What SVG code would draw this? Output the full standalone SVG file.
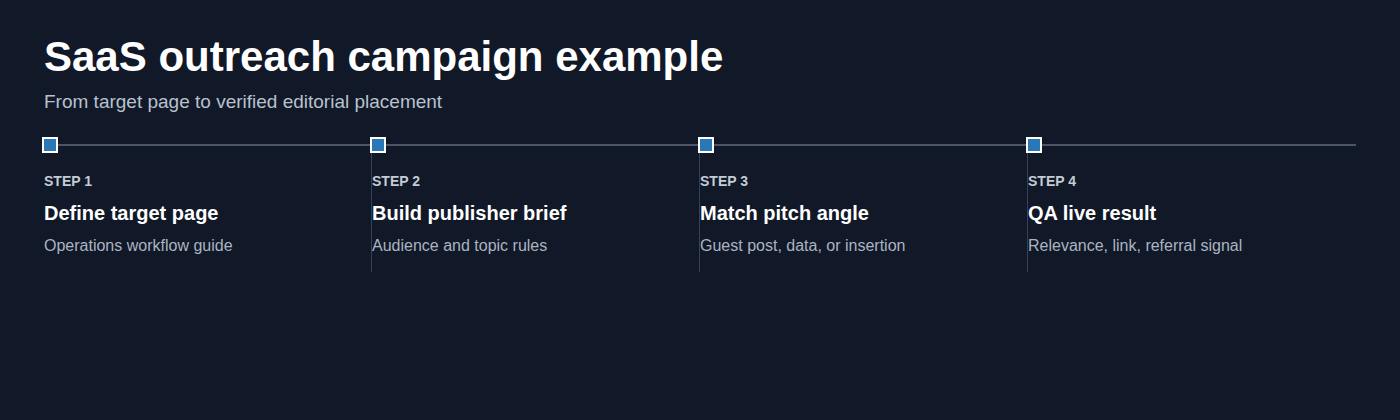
<svg xmlns="http://www.w3.org/2000/svg" width="1400" height="420" viewBox="0 0 1400 420">
<style>
text{font-family:"Liberation Sans",Arial,sans-serif}
.title{font-size:42px;font-weight:bold;fill:#ffffff}
.sub{font-size:19px;fill:#b8c2cf}
.step{font-size:14px;font-weight:bold;fill:#c3cbd6}
.name{font-size:20px;font-weight:bold;fill:#ffffff}
.desc{font-size:16px;fill:#aab4c2}
.mark{fill:#2a78b8;stroke:#ffffff;stroke-width:2}
.div{stroke:#374151;stroke-width:1}
.track{stroke:#4b5563;stroke-width:2}
</style>
<rect width="1400" height="420" fill="#111827"/>
<text class="title" x="44" y="71">SaaS outreach campaign example</text>
<text class="sub" x="44" y="108">From target page to verified editorial placement</text>
<g id="connectors">
<line class="track" x1="50" y1="145" x2="1356" y2="145"/>
<line class="div" x1="371.5" y1="152" x2="371.5" y2="272"/>
<line class="div" x1="699.5" y1="152" x2="699.5" y2="272"/>
<line class="div" x1="1027.5" y1="152" x2="1027.5" y2="272"/>
</g>
<g id="step1">
<rect class="mark" x="43" y="138" width="14" height="14"/>
<text class="step" x="44" y="186">STEP 1</text>
<text class="name" x="44" y="220">Define target page</text>
<text class="desc" x="44" y="251">Operations workflow guide</text>
</g>
<g id="step2">
<rect class="mark" x="371" y="138" width="14" height="14"/>
<text class="step" x="372" y="186">STEP 2</text>
<text class="name" x="372" y="220">Build publisher brief</text>
<text class="desc" x="372" y="251">Audience and topic rules</text>
</g>
<g id="step3">
<rect class="mark" x="699" y="138" width="14" height="14"/>
<text class="step" x="700" y="186">STEP 3</text>
<text class="name" x="700" y="220">Match pitch angle</text>
<text class="desc" x="700" y="251">Guest post, data, or insertion</text>
</g>
<g id="step4">
<rect class="mark" x="1027" y="138" width="14" height="14"/>
<text class="step" x="1028" y="186">STEP 4</text>
<text class="name" x="1028" y="220">QA live result</text>
<text class="desc" x="1028" y="251">Relevance, link, referral signal</text>
</g>
</svg>
